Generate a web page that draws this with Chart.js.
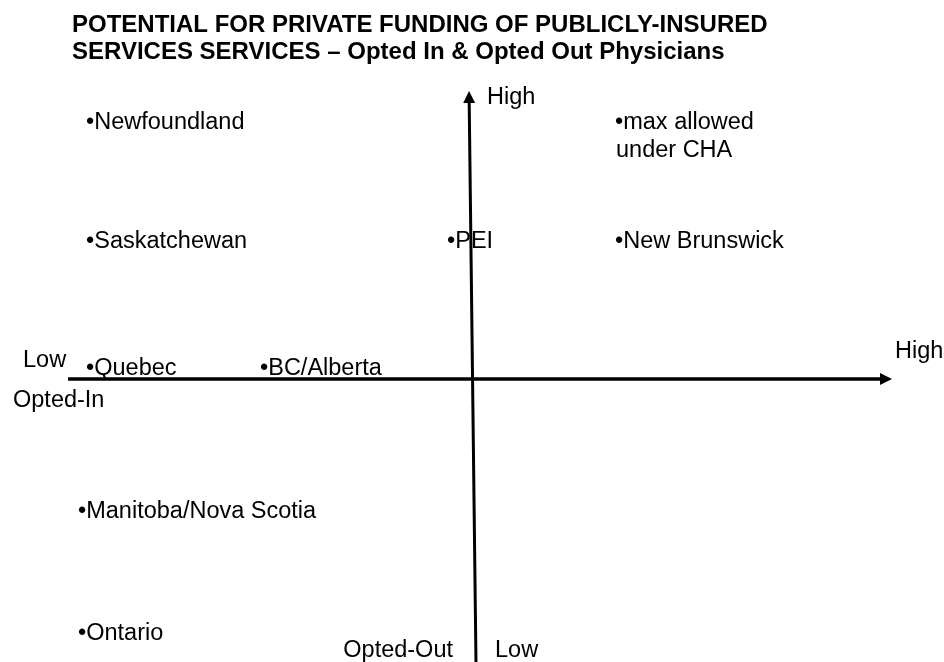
<!DOCTYPE html>
<html>
<head>
<meta charset="utf-8">
<script src="https://cdn.jsdelivr.net/npm/chart.js@4"></script>
<style>
  html, body { margin: 0; padding: 0; background: #fff; }
  canvas { display: block; }
</style>
</head>
<body>
<canvas id="chart" width="944" height="662"></canvas>
<script>
// Title
const titleLines = ['POTENTIAL FOR PRIVATE FUNDING OF PUBLICLY-INSURED', 'SERVICES SERVICES – Opted In & Opted Out Physicians'];

// Provinces: x = opted-in / opted-out, y = potential for private funding
const provinces = ['•Newfoundland', '•max allowed', 'under CHA', '•Saskatchewan', '•PEI', '•New Brunswick', '•Quebec', '•BC/Alberta', '•Manitoba/Nova Scotia', '•Ontario'];
const provX = [-9.65, 3.575, 3.6, -9.65, -0.625, 3.575, -9.65, -5.3, -9.85, -9.85];
const provY = [6.25, 6.25, 5.55, 3.275, 3.275, 3.275, 0.1, 0.1, -3.475, -6.525];

// Axis end labels
const axisLabels = ['Low', 'High', 'Opted-In', 'Opted-Out', 'Low', 'High'];
const axisLabelX = [-11.225, 10.575, -11.475, -0.475, 0.575, 0.375];
const axisLabelY = [0.3, 0.525, -0.7, -6.95, -6.95, 6.875];
const axisLabelAlign = ['left', 'left', 'left', 'right', 'left', 'left'];

// Axes (arrow at the last point)
const hAxisX = [-10.1, 10.2];
const hAxisY = [0, 0];
const vAxisX = [0.1, -0.07];
const vAxisY = [-7.1, 6.9];

const FONT = '"Liberation Sans", Arial, sans-serif';

const toPoints = (xs, ys) => xs.map((v, i) => ({ x: v, y: ys[i] }));

// text goes under the axis lines (see PEI)
const textPlugin = {
  id: 'schemeText',
  beforeDatasetsDraw(chart) {
    const { ctx } = chart;
    ctx.save();
    ctx.fillStyle = '#000';
    ctx.textBaseline = 'alphabetic';

    ctx.font = 'bold 24px ' + FONT;
    ctx.textAlign = 'left';
    ctx.fillText(titleLines[0], 72, 32);
    ctx.fillText(titleLines[1], 72, 59);

    ctx.font = '23.5px ' + FONT;
    const pts = chart.getDatasetMeta(2).data;
    pts.forEach((p, i) => ctx.fillText(provinces[i], p.x, p.y));

    const ax = chart.getDatasetMeta(3).data;
    ax.forEach((p, i) => {
      ctx.textAlign = axisLabelAlign[i];
      ctx.fillText(axisLabels[i], p.x, p.y);
    });
    ctx.restore();
  }
};

const arrowPlugin = {
  id: 'arrowHeads',
  afterDatasetsDraw(chart) {
    const { ctx } = chart;
    chart.data.datasets.forEach((ds, i) => {
      if (!ds.arrow) return;
      const pts = chart.getDatasetMeta(i).data;
      const a = pts[pts.length - 2], b = pts[pts.length - 1];
      const ang = Math.atan2(b.y - a.y, b.x - a.x);
      const len = 12, half = 6;
      ctx.save();
      ctx.translate(b.x, b.y);
      ctx.rotate(ang);
      ctx.beginPath();
      ctx.moveTo(len, 0);
      ctx.lineTo(0, -half);
      ctx.lineTo(0, half);
      ctx.closePath();
      ctx.fillStyle = '#000';
      ctx.fill();
      ctx.restore();
    });
  }
};

new Chart(document.getElementById('chart'), {
  type: 'scatter',
  data: {
    datasets: [
      { data: toPoints(hAxisX, hAxisY), showLine: true, borderColor: '#000', borderWidth: 3.5, pointRadius: 0, borderCapStyle: 'butt', arrow: true, clip: false },
      { data: toPoints(vAxisX, vAxisY), showLine: true, borderColor: '#000', borderWidth: 3, pointRadius: 0, borderCapStyle: 'butt', arrow: true, clip: false },
      { data: toPoints(provX, provY), pointRadius: 0 },
      { data: toPoints(axisLabelX, axisLabelY), pointRadius: 0 }
    ]
  },
  options: {
    responsive: false,
    animation: false,
    layout: { padding: 0 },
    plugins: { legend: { display: false }, tooltip: { enabled: false }, title: { display: false } },
    scales: {
      x: { type: 'linear', min: -11.8, max: 11.8, display: false },
      y: { type: 'linear', min: -7.075, max: 9.475, display: false }
    }
  },
  plugins: [textPlugin, arrowPlugin]
});
</script>
</body>
</html>
